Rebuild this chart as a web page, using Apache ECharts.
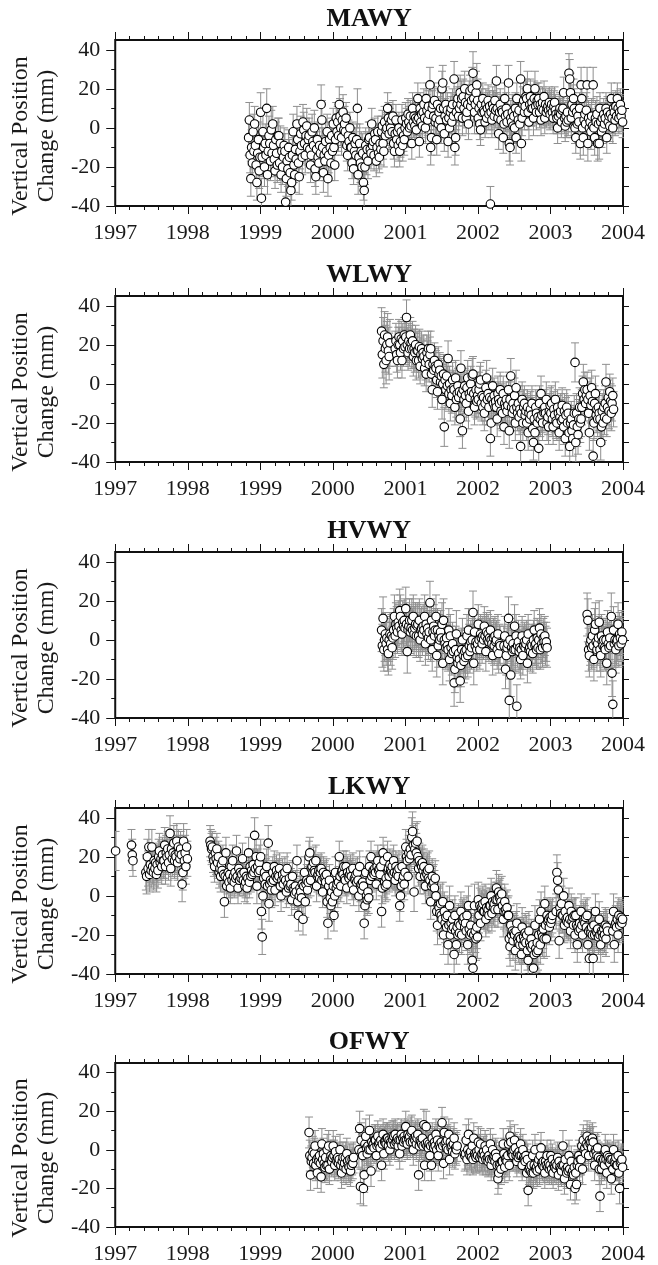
<!DOCTYPE html>
<html><head><meta charset="utf-8">
<script src="https://cdn.jsdelivr.net/npm/echarts@6/dist/echarts.min.js"></script>
<style>html,body{margin:0;padding:0;background:#fff}#c{width:658px;height:1265px}</style>
</head><body><div id="c"></div><script>
// ---- data: 8 samples per month; start = [year, month]; errors (mm) are per month ----
const stations = ['MAWY', 'WLWY', 'HVWY', 'LKWY', 'OFWY'];
const xTickLabels = [1997, 1998, 1999, 2000, 2001, 2002, 2003, 2004];
const yTickLabels = [-40, -20, 0, 20, 40];
const yMinorTicks = [-30, -10, 10, 30];

const mawyStart = [1998, 11];
const mawyVals = [
 -5,4,-14,-26,-10,-18,-2,-12,  2,-9,-19,-28,-13,-6,-22,-15,
 8,-36,-15,-2,-10,-20,-8,-14,  10,-24,-12,-4,-8,-17,-1,-13,  2,-9,-16,-22,-6,-13,-19,-4,
 -4,-18,-8,-24,-12,-20,-15,-9,  -12,-38,-26,-17,-21,-10,-15,-23,  -32,-28,-14,-2,-19,-24,-11,-16,
 2,-6,-18,-25,-12,-3,-9,-15,  3,-1,-8,-14,-4,1,-10,-6,  -4,-11,-19,-14,-2,-7,-9,0,
 -21,-25,-11,-6,-15,-18,-9,-13,  12,4,-10,-23,-14,-17,-7,-12,  -2,-26,-14,-6,-10,-18,-4,-12,
 2,-10,-19,-6,5,-2,3,-4,  12,6,0,-5,4,8,-1,2,  -2,5,-9,-14,-4,-7,0,-10,
 -10,-18,-5,-21,-12,-8,-14,-6,  10,-24,-15,-8,-18,-12,-20,-13,  -28,-32,-20,-9,-15,-11,-17,-6,
 -5,-11,-13,2,-9,-7,-14,-3,  -6,-17,-10,-2,-13,-15,-8,-11,  -2,1,-8,-12,3,-4,-1,0,
 10,5,-3,2,0,4,-2,6,  -8,-12,-3,4,-6,-2,-9,0,  -12,-7,-2,4,-9,-4,-6,0,
 5,2,-2,7,3,0,6,1,  -8,10,3,6,1,5,-1,4,  15,5,-7,10,3,7,1,8,
 12,5,0,15,9,4,11,7,  22,-10,-5,10,12,6,14,3,  5,-6,12,2,8,4,10,0,
 20,23,10,-3,6,12,4,9,  -7,5,0,8,10,3,12,6,  25,-10,-5,8,12,15,6,10,
 18,12,15,5,16,10,20,13,  5,8,12,2,16,19,11,14,  20,28,15,8,12,18,22,14,
 5,10,2,-1,12,8,15,9,  8,3,12,5,10,14,7,11,  -39,8,4,12,10,6,14,9,
 24,10,5,-3,8,12,4,9,  8,-5,2,15,6,10,3,7,  23,-8,-10,5,3,8,1,6,
 0,10,-5,15,7,4,9,2,  25,-8,5,12,14,8,11,16,  15,20,8,3,12,16,10,13,
 10,5,15,20,11,8,14,12,  15,8,12,4,10,13,9,16,  5,12,8,10,11,9,13,7,
 10,12,8,5,11,13,9,7,  5,0,6,8,10,7,3,9,  10,18,5,1,6,3,8,4,
 28,25,18,5,12,8,15,10,  0,-5,8,2,6,3,10,-8,  22,15,0,-5,4,7,2,9,
 22,-8,5,0,3,-2,6,1,  22,0,-5,5,3,7,-8,2,  -8,10,3,-2,5,0,7,2,
 5,10,-5,8,3,6,1,7,  15,5,0,10,8,4,11,6,  15,10,5,8,12,6,9,3
];
const mawyErr = [9,9,
 10,10,9,9,9,9,9,9,9,9,10,9,
 8,9,8,8,10,9,8,8,8,8,8,8,
 8,8,8,8,9,8,9,8,9,9,8,11,
 8,8,9,8,8,9,8,9,9,9,8,8,
 8,8,8,10,8,9,9,9,8,8,8,8];

const wlwyStart = [2000, 9];
const wlwyVals = [
 27,15,22,10,25,18,12,20,  24,17,14,21,null,null,null,null,  null,null,18,22,15,12,20,24,  20,16,23,12,22,18,25,19,
 24,34,20,16,22,18,25,21,  18,22,14,18,16,20,12,17,  17,12,19,9,15,18,13,16,
 14,8,11,5,16,13,18,10,  15,18,5,-3,10,7,12,9,  8,2,-4,10,5,7,1,4,
 -8,0,5,-22,2,-3,4,-1,  13,-5,0,-10,-3,-6,2,-2,  -3,-12,3,-8,-5,-1,-7,-4,
 -18,8,-5,-24,-3,-8,-1,-6,  -10,-2,3,-14,-5,-7,0,-4,  4,5,-5,-12,-8,-3,-9,-6,
 -8,-3,0,2,-10,-6,-12,-7,  -15,-10,-2,3,-8,-5,-12,-7,  -28,-20,-8,-1,-10,-6,-12,-9,
 -12,-18,-5,-8,-10,-3,-14,-9,  -15,-5,-22,-10,-12,-8,-14,-11,  -3,-24,-8,4,-12,-15,-10,-13,
 -6,-20,-2,-12,-15,-10,-17,-13,  -32,-15,-8,-20,-12,-10,-16,-14,  -20,-12,-25,-15,-18,-13,-16,-10,
 -23,-30,-18,-25,-12,-15,-20,-17,  -33,-10,-18,-5,-16,-20,-13,-15,  -12,-15,-8,-20,-17,-22,-14,-11,
 -15,-10,-18,-22,-13,-16,-8,-19,  -20,-12,-15,-25,-17,-14,-19,-11,  -18,-22,-14,-28,-16,-12,-20,-15,
 -25,-32,-20,-18,-24,-28,-21,-15,  11,-30,-15,-22,-26,-18,-12,-20,  -18,-12,-5,1,-8,-3,-10,-6,
 -3,-8,-15,-25,-6,-11,-2,-9,  -37,-20,-10,-5,-16,-13,-18,-12,  -15,-18,-30,-22,-14,-20,-12,-17,
 -10,1,-18,-12,-7,-14,-4,-9,  -15,-10,-6,-13,null,null,null,null
];
const wlwyErr = [12,12,9,9,
 9,10,9,9,9,9,10,9,9,9,9,9,
 9,9,9,9,9,9,9,9,9,9,9,9,
 9,9,9,9,10,9,9,9,9,9,9];

const hvwyStartA = [2000, 9];
const hvwyValsA = [
 5,-3,11,-5,0,3,-2,1,  -5,-7,0,3,-2,2,-4,1,  5,12,2,8,6,4,9,7,  15,12,5,3,9,7,10,6,
 16,8,-6,5,7,10,4,6,  10,5,12,3,6,8,2,7,  8,2,10,0,5,6,3,7,
 5,12,-2,8,3,6,1,4,  19,0,10,-5,4,7,2,5,  12,-8,5,-3,2,0,4,1,
 8,-12,10,0,-2,-4,1,-3,  -5,5,-10,2,-4,-7,-2,-6,  -22,-15,-5,3,-9,-12,-7,-10,
 -21,-13,-5,0,-8,-11,-6,-9,  -5,2,-8,5,-3,-6,-1,-4,  0,14,-12,4,-3,-1,-5,-2,
 8,0,-5,3,1,-2,2,0,  7,2,-6,4,0,3,-1,1,  5,0,-2,-8,1,-3,2,-1,
 0,-5,3,-7,-2,-3,null,null,  null,null,-3,2,-15,-8,-4,-2,  11,-31,0,-18,-4,-6,-2,-5,
 7,-5,2,-34,-3,-1,-6,-4,  -10,-5,2,-8,-3,-1,-4,-2,  0,-12,3,-5,-4,-6,-2,-3,
 -7,0,5,-3,-2,-5,1,-4,  0,6,-5,3,-2,-4,1,-1,  2,-3,-1,-4,null,null,null,null
];
const hvwyErrA = [11,11,11,11,
 11,11,11,11,11,11,11,11,12,11,11,11,
 10,10,10,10,10,11,11,10,10,10,10,10];
const hvwyStartB = [2003, 7];
const hvwyValsB = [
 13,10,-5,-8,-2,0,-4,2,  -3,-10,5,8,-1,-5,-2,1,  9,-5,-8,2,-1,-3,0,-4,
 -5,0,-12,4,-2,-4,1,-3,  12,-17,-33,5,-2,0,-5,-1,  0,8,-3,3,1,-2,4,0
];
const hvwyErrB = [11,11,11,11,12,11];

const lkwyStartA = [1997, 1];
const lkwyValsA = [
 23,null,null,null,null,null,null,null,  null,null,null,null,null,null,null,null,
 null,null,null,null,null,26,21,18,  null,null,null,null,null,null,null,null,
 null,null,null,null,null,null,null,null,  12,10,20,14,25,11,16,13,
 25,15,12,18,14,17,11,16,  13,20,23,17,19,15,21,18,  18,26,15,22,20,24,17,21,
 32,14,24,19,22,27,18,21,  20,28,17,25,22,19,24,21,  6,12,28,18,22,15,25,19
];
const lkwyErrA = [10,null,8,null,null,9,9,9,9,9,9,9];
const lkwyStartB = [1998, 4];
const lkwyValsB = [
 null,null,null,null,null,28,26,24,  25,20,18,15,22,19,24,17,  20,12,14,10,16,13,18,11,
 -3,10,22,5,9,12,7,11,  4,15,8,18,10,7,12,9,  23,10,4,14,8,12,9,11,
 19,8,12,5,7,10,4,9,  22,7,15,10,13,11,16,12,  31,14,20,5,15,12,17,13,
 20,-8,-21,0,9,12,6,10,  15,5,27,-4,6,8,3,7,  12,8,15,3,10,13,9,11,
 10,14,5,0,8,11,6,9,  12,8,2,14,6,4,9,5,  6,-2,10,4,3,1,5,2,
 18,-3,-10,0,4,2,-1,6,  -12,5,12,-3,6,8,3,7,  20,22,8,14,15,12,17,13,
 12,18,5,10,11,13,9,12,  14,8,2,12,9,10,7,11,  -3,-14,5,8,-1,-5,2,-3,
 5,-10,0,12,4,6,2,7,  20,10,5,12,13,11,15,9,  8,15,4,12,10,9,11,13,
 10,6,14,3,9,8,11,7,  12,8,0,15,5,6,3,7,  5,-14,-5,12,0,-2,2,-1,
 15,8,20,10,12,13,11,14,  12,6,15,18,13,14,11,15,  -8,4,22,18,7,5,9,6,
 20,14,10,16,13,12,15,11,  18,12,8,15,11,13,10,14,  -5,0,5,15,8,10,6,12,
 25,20,18,10,22,19,24,21,  30,33,26,2,24,27,22,28,  20,14,18,10,16,15,17,13,
 15,10,5,12,11,13,9,14,  8,-3,5,10,6,7,4,9,  0,-8,-15,-5,-6,-9,-4,-10,
 -12,-3,-20,-8,-14,-11,-16,-10,  -25,-15,-5,-20,-14,-17,-12,-16,  -30,-10,-18,-25,-16,-20,-14,-19,
 -15,-8,-20,-12,-13,-11,-16,-14,  -18,-10,-25,-5,-17,-20,-15,-19,  -33,-37,-20,-5,-18,-22,-16,-21,
 -2,-10,-5,-14,-6,-7,-4,-8,  -8,-3,-12,-6,-9,-7,-10,-5,  -5,0,-9,-3,-6,-4,-7,-2,
 4,-2,-7,2,-1,0,-3,1,  -5,-12,-8,-3,-7,-9,-6,-10,  -10,-22,-26,-15,-20,-18,-23,-19,
 -20,-28,-18,-14,-22,-24,-21,-25,  -22,-30,-16,-25,-21,-23,-19,-24,  -20,-28,-33,-18,-24,-26,-22,-27,
 -25,-37,-30,-15,-27,-29,-24,-28,  -20,-12,-25,-8,-19,-21,-17,-22,  -4,-15,-22,-10,-13,-12,-16,-11,
 -14,-12,-10,null,null,null,null,-8,  12,8,3,-23,-6,-9,-4,-10,  -10,0,-15,-8,-12,-13,-11,-14,
 -5,-12,-18,-8,-13,-11,-15,-10,  -20,-10,-15,-25,-16,-18,-14,-17,  -8,-15,-20,-12,-13,-14,-11,-16,
 -10,-25,-18,-32,-17,-19,-16,-20,  -32,-15,-20,-8,-18,-19,-17,-21,  -12,-20,-25,-18,-19,-21,-17,-20,
 -15,-22,-16,-18,null,null,null,null,  null,null,-18,-8,-25,-15,-14,-16,  -12,-20,-10,-15,-13,-11,-14,-12
];
const lkwyErrB = [8,8,8,8,8,8,8,8,9,
 9,9,8,8,8,8,8,8,8,8,8,8,
 8,8,8,8,8,8,8,8,8,8,8,8,
 9,10,9,9,9,10,10,10,10,10,10,11,
 9,9,9,9,9,10,10,10,10,10,10,9,
 9,9,9,9,9,9,9,9,9,9,9,9];

const ofwyStart = [1999, 9];
const ofwyVals = [
 9,-3,-13,-6,-4,-1,-7,-2,  2,-8,-5,-12,-4,-6,-3,-7,  -14,3,-5,-2,-7,-9,-4,-8,  0,-8,2,-10,-5,-3,-6,-4,
 2,-3,-8,-1,-5,-6,-4,-7,  -5,0,-8,-12,-6,-4,-9,-7,  -4,-10,-2,-6,-8,-9,-5,-11,
 -8,-5,-7,-4,null,null,null,null,  null,null,0,11,-19,5,-1,-3,  -20,-13,3,7,1,-2,2,0,
 10,0,-11,4,2,3,1,5,  5,-3,2,7,3,4,1,5,  -8,3,8,-2,4,5,3,6,
 6,2,5,0,4,3,7,5,  7,3,8,4,5,6,2,5,  -2,5,8,2,6,4,7,5,
 12,5,3,8,6,7,4,9,  10,4,0,6,5,7,3,6,  8,-13,2,5,4,3,6,2,
 13,-8,3,12,2,4,1,3,  -3,2,-8,6,3,1,4,2,  8,0,5,-3,2,3,1,4,
 14,2,-7,9,3,4,1,5,  0,8,-5,4,1,2,-1,3,  6,-2,1,0,2,null,null,null,
 null,null,null,null,null,null,-3,-2,  5,-5,0,8,-2,-3,-1,-4,  2,-5,6,-2,-3,-4,-1,-3,
 4,0,-4,3,-3,-2,-5,-1,  -3,2,-5,0,-4,-6,-3,-5,  3,-8,-5,0,-4,-3,-6,-2,
 -4,-8,-15,-12,-8,-7,-10,-6,  -6,3,-2,-9,-5,-4,-6,-3,  3,-8,7,4,-2,-1,-3,0,
 5,1,-3,-6,-2,-4,-1,-3,  3,-3,-8,0,-4,-5,-6,-3,  -12,-5,-21,-10,-9,-11,-8,-12,
 -3,-12,-8,0,-10,-9,-11,-7,  -5,-10,-3,1,-7,-8,-6,-9,  -12,-6,-8,-3,-9,-7,-10,-8,
 -3,-10,-5,-12,-8,-9,-7,-10,  -8,-4,-13,-6,-9,-10,-11,-8,  2,-8,-15,-5,-10,-12,-9,-11,
 -3,-10,-18,-6,-12,-11,-13,-9,  -20,-12,-18,-8,-6,-3,-9,-5,  -5,2,-10,5,0,1,-2,3,
 7,2,-3,5,3,4,1,6,  4,-2,-8,0,-1,-3,1,-4,  -10,-24,-5,-10,-6,-7,-5,-8,
 0,-5,-12,-3,-6,-4,-7,-5,  -15,-5,-10,0,-6,-7,-4,-8,  -8,-3,-12,-20,-7,-6,-5,-9
];
const ofwyErr = [8,8,8,8,
 8,8,8,8,9,9,8,8,8,8,8,8,
 8,8,8,8,8,8,8,8,8,8,8,8,
 8,8,8,8,8,8,8,8,8,8,8,8,
 8,8,8,8,8,8,8,8,8,8,8,8];

const segments = [
  [[mawyStart, mawyVals, mawyErr]],
  [[wlwyStart, wlwyVals, wlwyErr]],
  [[hvwyStartA, hvwyValsA, hvwyErrA], [hvwyStartB, hvwyValsB, hvwyErrB]],
  [[lkwyStartA, lkwyValsA, lkwyErrA], [lkwyStartB, lkwyValsB, lkwyErrB]],
  [[ofwyStart, ofwyVals, ofwyErr]]
];

const PER_MONTH = 8;
function build(segs) {
  const pts = [], bars = [];
  segs.forEach(([start, vals, err]) => {
    for (let i = 0; i < vals.length; i++) {
      const v = vals[i];
      if (v === null) continue;
      const m = Math.floor(i / PER_MONTH), k = i % PER_MONTH;
      const x = start[0] + (start[1] - 1 + m) / 12 + (k + 0.5) / (12 * PER_MONTH);
      pts.push([x, v]);
      bars.push([x, v, err[m]]);
    }
  });
  return { pts, bars };
}

const FONT = '"Liberation Serif","Times New Roman",serif';
const TXT = '#1a1a1a';
const tops = [40, 296, 552, 808, 1063];
const grids = [], xAxes = [], yAxes = [], series = [];

function renderErr(params, api) {
  const x = api.value(0), y = api.value(1), e = api.value(2);
  const t = api.coord([x, y + e]);
  const b = api.coord([x, y - e]);
  const hw = 4;
  const st = { stroke: '#8e8e8e', lineWidth: 1 };
  return { type: 'group', children: [
    { type: 'line', shape: { x1: t[0], y1: t[1], x2: b[0], y2: b[1] }, style: st },
    { type: 'line', shape: { x1: t[0] - hw, y1: t[1], x2: t[0] + hw, y2: t[1] }, style: st },
    { type: 'line', shape: { x1: b[0] - hw, y1: b[1], x2: b[0] + hw, y2: b[1] }, style: st }
  ]};
}

stations.forEach((name, i) => {
  grids.push({ left: 112, width: 511, top: tops[i], height: 166, show: true,
    borderColor: '#111', borderWidth: 2, backgroundColor: 'transparent', containLabel: false });
  const xBase = { type: 'value', gridIndex: i, min: 1997, max: 2004, interval: 1,
    axisLine: { show: false, onZero: false }, splitLine: { show: false },
    axisTick: { show: true, length: 8, lineStyle: { color: '#111', width: 1 } },
    minorTick: { show: true, splitNumber: 5, length: 4, lineStyle: { color: '#111', width: 1 } } };
  xAxes.push(Object.assign({}, xBase, { position: 'bottom',
    axisLabel: { show: true, customValues: xTickLabels, formatter: v => String(v),
      fontSize: 22, fontFamily: FONT, color: TXT, margin: 16 } }));
  xAxes.push(Object.assign({}, xBase, { position: 'top', name: name, nameLocation: 'middle', nameGap: 8,
    nameTextStyle: { fontSize: 26, fontWeight: 'bold', fontFamily: FONT, color: '#111' },
    axisLabel: { show: false } }));
  const yBase = { type: 'value', gridIndex: i, min: -40, max: 45, interval: 10,
    axisLine: { show: false, onZero: false }, splitLine: { show: false } };
  yAxes.push(Object.assign({}, yBase, { position: 'left',
    name: 'Vertical Position\nChange (mm)', nameLocation: 'middle', nameRotate: 90, nameGap: 50,
    nameTextStyle: { fontSize: 24, lineHeight: 26, fontFamily: FONT, color: TXT, padding: [0, 26, 0, 0] },
    axisTick: { show: true, customValues: yTickLabels, length: 9, lineStyle: { color: '#111', width: 1 } },
    axisLabel: { show: true, customValues: yTickLabels, formatter: v => String(v),
      fontSize: 22, fontFamily: FONT, color: TXT, margin: 15 } }));
  yAxes.push(Object.assign({}, yBase, { position: 'left',
    axisTick: { show: true, customValues: yMinorTicks, length: 4, lineStyle: { color: '#111', width: 1 } },
    axisLabel: { show: false } }));
  yAxes.push(Object.assign({}, yBase, { position: 'right',
    axisTick: { show: true, customValues: yTickLabels.concat(yMinorTicks), length: 6, lineStyle: { color: '#111', width: 1 } },
    axisLabel: { show: false } }));

  const d = build(segments[i]);
  series.push({ type: 'custom', xAxisIndex: 2 * i, yAxisIndex: 3 * i, renderItem: renderErr,
    data: d.bars, z: 2, clip: true, silent: true });
  series.push({ type: 'scatter', xAxisIndex: 2 * i, yAxisIndex: 3 * i, data: d.pts,
    symbol: 'circle', symbolSize: 8.5, z: 3, silent: true, large: false,
    itemStyle: { color: '#fff', borderColor: '#000', borderWidth: 1.1, opacity: 1 } });
});

const chart = echarts.init(document.getElementById('c'), null, { renderer: 'canvas' });
chart.setOption({ animation: false, backgroundColor: '#fff', grid: grids, xAxis: xAxes, yAxis: yAxes, series: series });
</script></body></html>
